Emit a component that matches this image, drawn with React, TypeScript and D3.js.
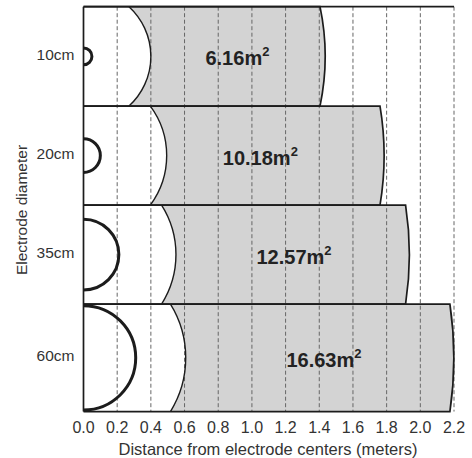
import React from "react";
import * as d3 from "d3";

// electrode diameters (row labels) and what is drawn in each row, in meters
const DIAMETERS = ["10cm", "20cm", "35cm", "60cm"];
const ELECTRODE_R = [0.05, 0.1, 0.21, 0.31];
const INNER_R = [0.4, 0.494, 0.549, 0.607];
const OUTER_R = [1.435, 1.785, 1.935, 2.199];
const AREAS = ["6.16", "10.18", "12.57", "16.63"];
const AREA_LABEL_AT = [0.914, 1.05, 1.25, 1.428];
const X_TICKS = [0, 0.2, 0.4, 0.6, 0.8, 1.0, 1.2, 1.4, 1.6, 1.8, 2.0, 2.2];

// row heights in meters (layout only)
const ROW_SPAN_M = [0.59, 0.588, 0.588, 0.638];

const W = 472;
const H = 458;
const FONT = "'Liberation Sans', Arial, Helvetica, sans-serif";
const INK = "#1c1c1c";

const App: React.FC = () => {
  const x = d3.scaleLinear().domain([0, 2.2]).range([83.5, 454]);
  const k = (x(2.2) - x(0)) / 2.2;
  const total = d3.sum(ROW_SPAN_M);
  const y = d3
    .scaleLinear()
    .domain([0, total])
    .range([6.7, 6.7 + total * k]);

  const tops = ROW_SPAN_M.map((_, i) => d3.sum(ROW_SPAN_M.slice(0, i)));
  const x0 = x(0);

  const rows = DIAMETERS.map((label, i) => {
    const top = y(tops[i]);
    const bottom = y(tops[i] + ROW_SPAN_M[i]);
    const cy = (top + bottom) / 2;
    const h = (bottom - top) / 2;
    const ro = OUTER_R[i] * k;
    const ri = INNER_R[i] * k;
    const re = ELECTRODE_R[i] * k;
    const ao = Math.asin(Math.min(1, h / ro));
    const ai = Math.asin(Math.min(1, h / ri));
    const xo = x0 + Math.sqrt(Math.max(0, ro * ro - h * h));
    const xi = x0 + Math.sqrt(Math.max(0, ri * ri - h * h));

    // gray shell between inner and outer arcs
    const fill = d3.path();
    fill.moveTo(xi, top);
    fill.lineTo(xo, top);
    fill.arc(x0, cy, ro, -ao, ao);
    fill.lineTo(xi, bottom);
    fill.arc(x0, cy, ri, ai, -ai, true);
    fill.closePath();

    const outline = d3.path();
    outline.moveTo(x0, top);
    outline.lineTo(xo, top);
    outline.arc(x0, cy, ro, -ao, ao);
    outline.lineTo(x0, bottom);

    const inner = d3.path();
    inner.arc(x0, cy, ri, -ai, ai);

    const electrode = d3.path();
    electrode.arc(x0, cy, re, -Math.PI / 2, Math.PI / 2);

    return {
      label,
      area: AREAS[i],
      cy,
      fill: fill.toString(),
      outline: outline.toString(),
      inner: inner.toString(),
      electrode: electrode.toString(),
      labelX: x(AREA_LABEL_AT[i]),
    };
  });

  const plotTop = y(0);
  const plotBottom = y(total);

  return (
    <svg
      width={W}
      height={H}
      style={{ position: "absolute", left: 0, top: 0, background: "#fff" }}
      fontFamily={FONT}
    >
      {rows.map((r) => (
        <path key={"f" + r.label} d={r.fill} fill="#d3d3d3" />
      ))}

      {/* dashed grid */}
      {X_TICKS.filter((t) => t > 0).map((t) => (
        <line
          key={"g" + t}
          x1={x(t)}
          x2={x(t)}
          y1={plotTop}
          y2={plotBottom}
          stroke="#666"
          strokeWidth={1}
          strokeDasharray="4,2.5"
        />
      ))}

      {rows.map((r) => (
        <g key={"o" + r.label} fill="none" stroke={INK}>
          <path d={r.outline} strokeWidth={1.7} />
          <path d={r.inner} strokeWidth={1.4} />
          <path d={r.electrode} strokeWidth={3} />
        </g>
      ))}
      <line x1={x0} x2={x(2.2)} y1={plotTop} y2={plotTop} stroke={INK} strokeWidth={1.7} />
      <line x1={x0} x2={x0} y1={plotTop} y2={plotBottom} stroke={INK} strokeWidth={1.7} />

      {rows.map((r) => (
        <text
          key={"a" + r.label}
          x={r.labelX}
          y={r.cy + 9}
          textAnchor="middle"
          fontSize={20}
          fontWeight="bold"
          fill="#222"
        >
          <tspan>{r.area}m</tspan>
          <tspan dy={-9} fontSize={13}>
            2
          </tspan>
        </text>
      ))}

      {rows.map((r) => (
        <text
          key={"l" + r.label}
          x={74.5}
          y={r.cy + 3.5}
          textAnchor="end"
          fontSize={15.5}
          fill="#333"
        >
          {r.label}
        </text>
      ))}

      {X_TICKS.map((t) => (
        <text
          key={"t" + t}
          x={x(t)}
          y={433}
          textAnchor="middle"
          fontSize={16}
          fill="#333"
        >
          {t.toFixed(1)}
        </text>
      ))}

      <text x={268} y={454.5} textAnchor="middle" fontSize={16.5} fill="#333">
        Distance from electrode centers (meters)
      </text>
      <text
        transform="translate(27,210) rotate(-90)"
        textAnchor="middle"
        fontSize={15.5}
        fill="#333"
      >
        Electrode diameter
      </text>
    </svg>
  );
};

export default App;
